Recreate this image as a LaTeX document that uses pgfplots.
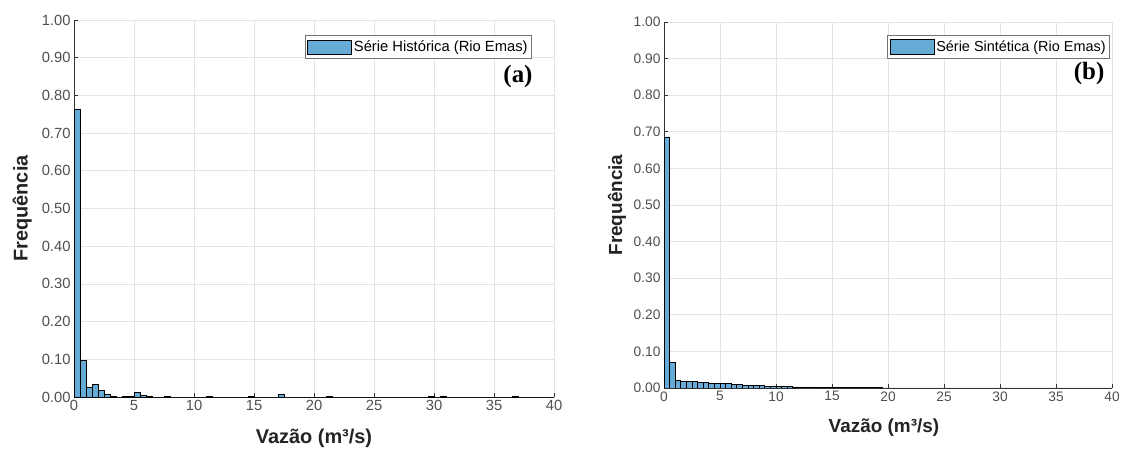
\documentclass[border=0pt]{standalone}
\usepackage{fontspec}
\setmainfont{Liberation Sans}
\newfontfamily\serifb{Liberation Serif}
\usepackage{pgfplots}
\pgfplotsset{compat=1.18}
\usepackage{pgfplotstable}

\definecolor{barfill}{RGB}{102,170,214}
\definecolor{tickgray}{RGB}{80,80,80}
\definecolor{labelgray}{RGB}{35,35,35}

% bin start, relative frequency (bins 0.5 m3/s wide)
\pgfplotstableread{
x y
0 0.764
0.5 0.097
1 0.025
1.5 0.033
2 0.018
2.5 0.008
3 0.001
3.5 0
4 0.002
4.5 0.001
5 0.012
5.5 0.004
6 0.001
6.5 0
7 0
7.5 0.002
8 0
8.5 0
9 0
9.5 0
10 0
10.5 0
11 0.002
11.5 0
12 0
12.5 0
13 0
13.5 0
14 0
14.5 0.002
15 0
15.5 0
16 0
16.5 0
17 0.008
17.5 0
18 0
18.5 0
19 0
19.5 0
20 0
20.5 0
21 0.002
21.5 0
22 0
22.5 0
23 0
23.5 0
24 0
24.5 0
25 0
25.5 0
26 0
26.5 0
27 0
27.5 0
28 0
28.5 0
29 0
29.5 0.002
30 0
30.5 0.003
31 0
31.5 0
32 0
32.5 0
33 0
33.5 0
34 0
34.5 0
35 0
35.5 0
36 0
36.5 0.002
37 0
37.5 0
38 0
38.5 0
39 0
39.5 0
40 0
}\histA

\pgfplotstableread{
x y
0 0.686
0.5 0.070
1 0.022
1.5 0.018
2 0.017
2.5 0.017
3 0.016
3.5 0.016
4 0.014
4.5 0.013
5 0.012
5.5 0.012
6 0.010
6.5 0.009
7 0.008
7.5 0.008
8 0.008
8.5 0.006
9 0.005
9.5 0.005
10 0.004
10.5 0.004
11 0.004
11.5 0.003
12 0.003
12.5 0.003
13 0.003
13.5 0.002
14 0.002
14.5 0.002
15 0.0015
15.5 0.0012
16 0.001
16.5 0.001
17 0.001
17.5 0.0008
18 0.0006
18.5 0.0005
19 0.0005
19.5 0.0004
20 0.0004
20.5 0.0003
21 0.0003
21.5 0.0003
22 0.0002
22.5 0.0002
23 0.0002
23.5 0.0002
24 0.0001
24.5 0.0001
25 0
25.5 0
26 0
26.5 0
27 0
27.5 0
28 0
28.5 0
29 0
29.5 0
30 0
30.5 0
31 0
31.5 0
32 0
32.5 0
33 0
33.5 0
34 0
34.5 0
35 0
35.5 0
36 0
36.5 0
37 0
37.5 0
38 0
38.5 0
39 0
39.5 0
40 0
}\histB

\pgfplotsset{hist/.style={
  scale only axis,
  xmin=0, xmax=40, ymin=0, ymax=1,
  xtick={0,5,10,15,20,25,30,35,40},
  ytick={0,0.1,0.2,0.3,0.4,0.5,0.6,0.7,0.8,0.9,1},
  axis x line*=bottom, axis y line*=left,
  axis line style={black!80, line width=0.8bp},
  tick align=inside, major tick length=4bp,
  tick style={black!80, line width=0.6bp},
  grid=major, grid style={black!11, line width=0.6bp},
  /pgf/number format/assume math mode=true,
  yticklabel style={/pgf/number format/.cd, fixed, fixed zerofill, precision=2},
  ticklabel style={text=tickgray},
  label style={text=labelgray},
  legend cell align=left,
  legend style={draw=black!55, line width=0.6bp, fill=white, anchor=north east,
    inner xsep=2bp, inner ysep=3.5bp},
  hbar/.style={ybar interval, fill=barfill, draw=black, line width=0.7bp,
    legend image code/.code={\draw[fill=barfill, draw=black, line width=0.7bp] (6bp,-7bp) rectangle (50bp,7bp);}},
}}

\begin{document}
\begin{tikzpicture}
\path[use as bounding box] (0,0) rectangle (1143bp,449bp);

\begin{axis}[hist,
  at={(74bp,52bp)}, anchor=south west, width=480bp, height=377bp,
  ticklabel style={font=\fontsize{14.8}{14.8}\selectfont},
  xlabel={Vazão (m³/s)}, ylabel={Frequência},
  label style={font=\bfseries\fontsize{20}{20}\selectfont},
  xlabel style={at={(axis description cs:0.5,-0.109)}, anchor=center},
  ylabel style={at={(axis description cs:-0.108,0.5)}, anchor=center},
  legend style={at={(axis description cs:0.954,0.960)}, font=\fontsize{14.8}{14.8}\selectfont}]
  \addplot[hbar] table {\histA};
  \addlegendentry{Série Histórica (Rio Emas)}
  \node[font=\serifb\bfseries\fontsize{25}{25}\selectfont, text=black] at (axis description cs:0.925,0.849) {(a)};
\end{axis}

\begin{axis}[hist,
  at={(664bp,61bp)}, anchor=south west, width=448bp, height=366bp,
  ticklabel style={font=\fontsize{13.8}{13.8}\selectfont},
  xlabel={Vazão (m³/s)}, ylabel={Frequência},
  label style={font=\bfseries\fontsize{19}{19}\selectfont},
  xlabel style={at={(axis description cs:0.491,-0.109)}, anchor=center},
  ylabel style={at={(axis description cs:-0.105,0.5)}, anchor=center},
  legend style={at={(axis description cs:0.9955,0.9645)}, font=\fontsize{14.5}{14.5}\selectfont}]
  \addplot[hbar] table {\histB};
  \addlegendentry{Série Sintética (Rio Emas)}
  \node[font=\serifb\bfseries\fontsize{25}{25}\selectfont, text=black] at (axis description cs:0.949,0.858) {(b)};
\end{axis}
\end{tikzpicture}
\end{document}
